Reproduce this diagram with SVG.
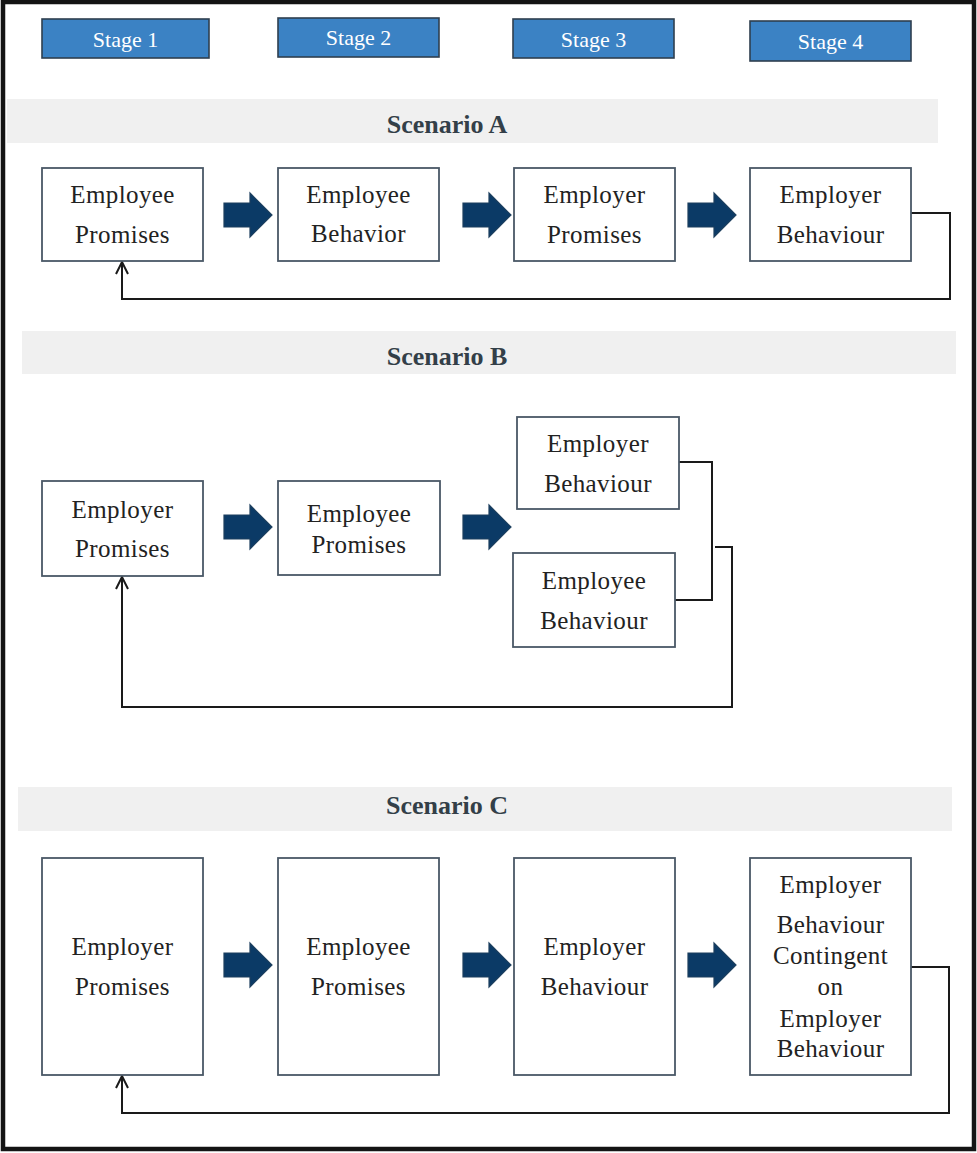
<svg xmlns="http://www.w3.org/2000/svg" width="977" height="1153" viewBox="0 0 977 1153">
<defs>
<style>
.stage{fill:#3b82c4;stroke:#2f3f4f;stroke-width:1.6}
.stxt{font-size:22px;fill:#ffffff;text-anchor:middle}
.band{fill:#f0f0f0}
.htxt{font-size:26px;font-weight:bold;fill:#333f48;text-anchor:middle}
.box{fill:#ffffff;stroke:#4a5866;stroke-width:1.8}
.btxt{font-size:25px;letter-spacing:0.4px;fill:#222222;text-anchor:middle}
.conn{fill:none;stroke:#1a1a1a;stroke-width:2}
.blk{fill:#0b3a66;stroke:#1d3f5e;stroke-width:1.2}
</style>
<marker id="open" markerWidth="14" markerHeight="14" refX="13" refY="7" orient="auto" markerUnits="userSpaceOnUse" viewBox="0 0 14 14">
<path d="M1,1 L13,7 L1,13" fill="none" stroke="#1a1a1a" stroke-width="2"/>
</marker>
<path id="barrow" d="M0,10 L26,10 L26,0 L48,22 L26,44 L26,34 L0,34 Z"/>
</defs>
<g font-family="'Liberation Serif', 'Times New Roman', 'DejaVu Serif', serif">
<rect x="3" y="2" width="971" height="1147" fill="#ffffff" stroke="#141414" stroke-width="4.5"/>

<g id="stages">
<g id="stage1"><rect class="stage" x="42" y="19" width="167" height="39"/><text class="stxt" x="125.5" y="47">Stage 1</text></g>
<g id="stage2"><rect class="stage" x="278" y="18" width="161" height="39"/><text class="stxt" x="358.5" y="45">Stage 2</text></g>
<g id="stage3"><rect class="stage" x="513" y="19" width="161" height="39"/><text class="stxt" x="593.5" y="47">Stage 3</text></g>
<g id="stage4"><rect class="stage" x="750" y="21" width="161" height="40"/><text class="stxt" x="830.5" y="49">Stage 4</text></g>
</g>

<g id="headers">
<g id="hdrA"><rect class="band" x="7" y="99" width="931" height="44"/><text class="htxt" x="447" y="133">Scenario A</text></g>
<g id="hdrB"><rect class="band" x="22" y="331" width="934" height="43"/><text class="htxt" x="447" y="365">Scenario B</text></g>
<g id="hdrC"><rect class="band" x="18" y="787" width="934" height="44"/><text class="htxt" x="447" y="814">Scenario C</text></g>
</g>

<g id="connectors">
<use href="#barrow" class="blk" x="224" y="193"/>
<use href="#barrow" class="blk" x="463" y="193"/>
<use href="#barrow" class="blk" x="688" y="193"/>
<path class="conn" d="M911,213 H950 V299 H122 V262" marker-end="url(#open)"/>

<use href="#barrow" class="blk" x="224" y="505"/>
<use href="#barrow" class="blk" x="463" y="505"/>
<path class="conn" d="M679,462 H712 V600 H675"/>
<path class="conn" d="M715,547 H732 V707 H122 V577" marker-end="url(#open)"/>

<use href="#barrow" class="blk" x="224" y="943"/>
<use href="#barrow" class="blk" x="463" y="943"/>
<use href="#barrow" class="blk" x="688" y="943"/>
<path class="conn" d="M911,967 H949 V1113 H122 V1076" marker-end="url(#open)"/>
</g>

<g id="A1"><rect class="box" x="42" y="168" width="161" height="93"/><text class="btxt" x="122.5" y="203">Employee</text><text class="btxt" x="122.5" y="243">Promises</text></g>
<g id="A2"><rect class="box" x="278" y="168" width="161" height="93"/><text class="btxt" x="358.5" y="203">Employee</text><text class="btxt" x="358.5" y="242">Behavior</text></g>
<g id="A3"><rect class="box" x="514" y="168" width="161" height="93"/><text class="btxt" x="594.5" y="203">Employer</text><text class="btxt" x="594.5" y="243">Promises</text></g>
<g id="A4"><rect class="box" x="750" y="168" width="161" height="93"/><text class="btxt" x="830.5" y="203">Employer</text><text class="btxt" x="830.5" y="243">Behaviour</text></g>

<g id="B1"><rect class="box" x="42" y="481" width="161" height="95"/><text class="btxt" x="122.5" y="518">Employer</text><text class="btxt" x="122.5" y="557">Promises</text></g>
<g id="B2"><rect class="box" x="278" y="481" width="162" height="94"/><text class="btxt" x="359" y="522">Employee</text><text class="btxt" x="359" y="553">Promises</text></g>
<g id="B3"><rect class="box" x="517" y="417" width="162" height="92"/><text class="btxt" x="598" y="452">Employer</text><text class="btxt" x="598" y="492">Behaviour</text></g>
<g id="B4"><rect class="box" x="513" y="553" width="162" height="94"/><text class="btxt" x="594" y="589">Employee</text><text class="btxt" x="594" y="629">Behaviour</text></g>

<g id="C1"><rect class="box" x="42" y="858" width="161" height="217"/><text class="btxt" x="122.5" y="955">Employer</text><text class="btxt" x="122.5" y="995">Promises</text></g>
<g id="C2"><rect class="box" x="278" y="858" width="161" height="217"/><text class="btxt" x="358.5" y="955">Employee</text><text class="btxt" x="358.5" y="995">Promises</text></g>
<g id="C3"><rect class="box" x="514" y="858" width="161" height="217"/><text class="btxt" x="594.5" y="955">Employer</text><text class="btxt" x="594.5" y="995">Behaviour</text></g>
<g id="C4"><rect class="box" x="750" y="858" width="161" height="217"/><text class="btxt" x="830.5" y="893">Employer</text><text class="btxt" x="830.5" y="933">Behaviour</text><text class="btxt" x="830.5" y="964">Contingent</text><text class="btxt" x="830.5" y="995">on</text><text class="btxt" x="830.5" y="1027">Employer</text><text class="btxt" x="830.5" y="1057">Behaviour</text></g>
</g>
</svg>
